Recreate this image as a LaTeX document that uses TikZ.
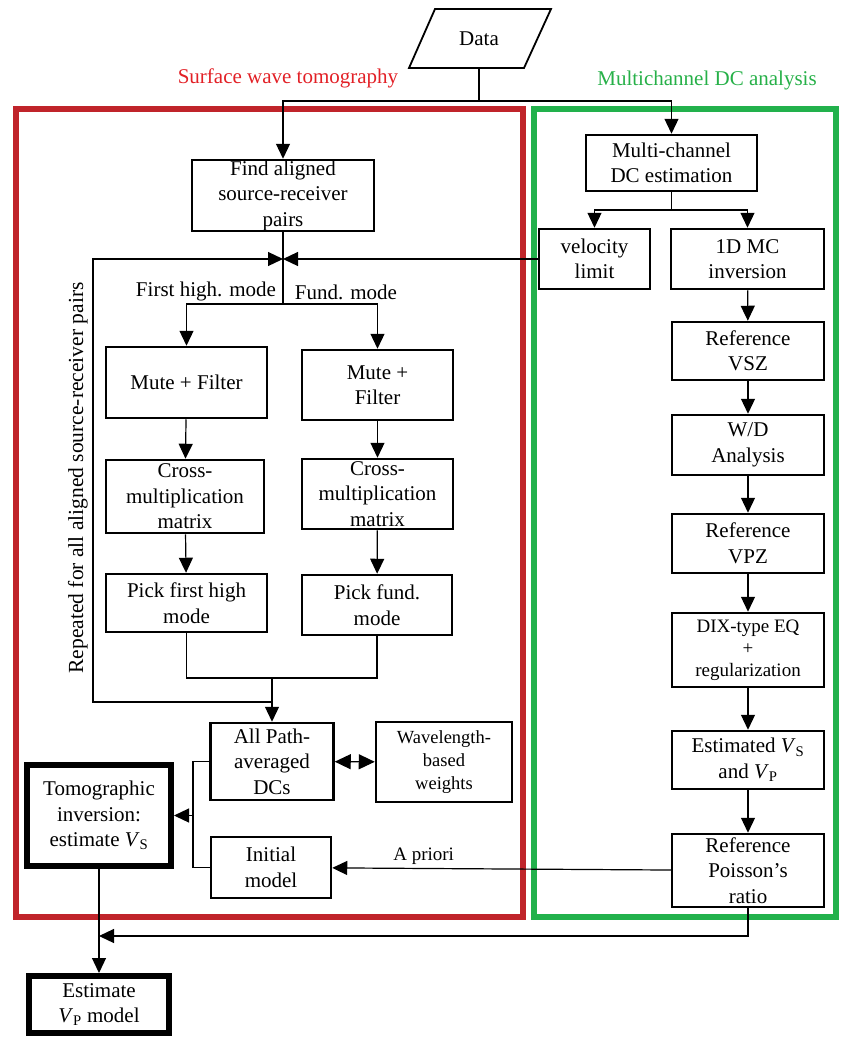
\documentclass[tikz,border=0pt]{standalone}
\usepackage{fontspec}
\setmainfont{Liberation Serif}
\usepackage{tikz}
\usetikzlibrary{arrows.meta}
\definecolor{swtred}{RGB}{226,32,38}
\definecolor{framered}{RGB}{192,36,42}
\definecolor{mcagreen}{RGB}{38,176,72}
\definecolor{framegreen}{RGB}{34,177,76}

\begin{document}
\begin{tikzpicture}[x=1pt, y=-1pt, font=\fontsize{21}{25.5}\selectfont,
    box/.style={draw, line width=2.5pt, align=center, inner sep=0pt},
    boldbox/.style={draw, line width=6pt, align=center, inner sep=0pt},
    conn/.style={line width=1.2pt},
    arr/.style={conn, -{Triangle[length=15pt, width=14pt]}},
    dblarr/.style={conn, {Triangle[length=16pt, width=15pt]}-{Triangle[length=16pt, width=15pt]}}]
    \useasboundingbox (0,0) rectangle (842,1037);

    % frames
    \draw[line width=6pt, framered] (16,109) rectangle (523,917);
    \draw[line width=6pt, framegreen] (534,109) rectangle (836,917);
    \node[text=swtred] at (288,78) (swt) {Surface wave tomography};
    \node[text=mcagreen] at (707,80) (mca) {Multichannel DC analysis};

    % input
    \node[minimum width=80pt, minimum height=59pt] at (479,38.5) (data) {Data};
    \draw[line width=1.8pt] (409,68) -- (435,9) -- (551,9) -- (524,68) -- cycle;

    % surface wave tomography
    \node[box, minimum width=182pt, minimum height=71pt] at (283,195.5) (find) {Find aligned\\source-receiver\\pairs};
    \node at (206,291) (fhm) {First high. mode};
    \node at (346,292) (fm) {Fund. mode};
    \node[box, minimum width=161pt, minimum height=71pt] at (186.5,382.5) (mfl) {Mute + Filter};
    \node[box, minimum width=151pt, minimum height=70pt] at (377.5,385) (mfr) {Mute +\\Filter};
    \node[box, minimum width=158pt, minimum height=73pt] at (185,496.5) (cml) {Cross-\\multiplication\\matrix};
    \node[box, minimum width=151pt, minimum height=70pt] at (377.5,494) (cmr) {Cross-\\multiplication\\matrix};
    \node[box, minimum width=161pt, minimum height=58pt] at (186.5,603) (pkl) {Pick first high\\mode};
    \node[box, minimum width=150pt, minimum height=60pt] at (377,605) (pkr) {Pick fund.\\mode};
    \node[rotate=90, font=\fontsize{21.5}{25}\selectfont] at (78,478) (rep) {Repeated for all aligned source-receiver pairs};
    \node[box, minimum width=123pt, minimum height=77pt] at (272,761.5) (allp) {All Path-\\averaged\\DCs};
    \node[box, minimum width=136pt, minimum height=80pt, font=\fontsize{18.5}{23}\selectfont] at (444,762) (wave) {Wavelength-\\based\\weights};
    \node[box, minimum width=120pt, minimum height=61pt] at (271,867.5) (init) {Initial\\model};
    \node[boldbox, minimum width=144pt, minimum height=101pt] at (99,815.5) (tomo) {Tomographic\\inversion:\\estimate \textit{V}\textsubscript{S}};
    \node[boldbox, minimum width=140pt, minimum height=57pt] at (99,1004.5) (estvp) {Estimate\\\textit{V}\textsubscript{P} model};

    % multichannel DC analysis
    \node[box, minimum width=171pt, minimum height=56pt] at (671.5,163) (mcdc) {Multi-channel\\DC estimation};
    \node[box, minimum width=111pt, minimum height=60pt] at (594.5,259) (vlim) {velocity\\limit};
    \node[box, minimum width=153pt, minimum height=60pt] at (747.5,259) (mc1d) {1D MC\\inversion};
    \node[box, minimum width=152pt, minimum height=58pt] at (748,351) (vsz) {Reference\\VSZ};
    \node[box, minimum width=152pt, minimum height=60pt] at (748,445) (wd) {W/D\\Analysis};
    \node[box, minimum width=152pt, minimum height=59pt] at (748,543.5) (vpz) {Reference\\VPZ};
    \node[box, minimum width=152pt, minimum height=74pt, font=\fontsize{19}{22}\selectfont] at (748,650) (dix) {DIX-type EQ\\+\\regularization};
    \node[box, minimum width=152pt, minimum height=58pt] at (748,760) (est) {Estimated \textit{V}\textsubscript{S}\\and \textit{V}\textsubscript{P}};
    \node[box, minimum width=152pt, minimum height=73pt] at (748,870.5) (poi) {Reference\\Poisson’s\\ratio};

    % junctions
    \coordinate (dsplit) at (479,101);
    \coordinate (mcsplit) at (671.5,210);
    \coordinate (jn) at (283,259);
    \coordinate (fsplit) at (283,304);
    \coordinate (pjoin) at (272,678);
    \coordinate (lj) at (272,702);
    \coordinate (lcorner) at (93,702);
    \coordinate (brk) at (193,815.5);
    \coordinate (vpin) at (99,936);

    \draw[conn] (data) -- (dsplit);
    \draw[arr] (dsplit) -| (find);
    \draw[arr] (dsplit) -| (mcdc);
    \draw[conn] (mcdc) -- (mcsplit);
    \draw[arr] (mcsplit) -| (vlim);
    \draw[arr] (mcsplit) -| (mc1d);
    \draw[arr] (vlim) -- (jn);
    \draw[arr] (lj) -- (lcorner) |- (jn);
    \draw[conn] (find) -- (fsplit);
    \draw[arr] (fsplit) -| (mfl);
    \draw[arr] (fsplit) -| (mfr);
    \draw[arr] (mfl) -- (cml);
    \draw[arr] (cml) -- (pkl);
    \draw[arr] (mfr) -- (cmr);
    \draw[arr] (cmr) -- (pkr);
    \draw[conn] (pkl) |- (pjoin) -| (pkr);
    \draw[arr] (pjoin) -- (allp);
    \draw[dblarr] (allp) -- (wave);
    \draw[conn] (allp.west) -| (brk) |- (init.west);
    \draw[arr] (brk) -- (tomo);
    \draw[arr] (mc1d) -- (vsz);
    \draw[arr] (vsz) -- (wd);
    \draw[arr] (wd) -- (vpz);
    \draw[arr] (vpz) -- (dix);
    \draw[arr] (dix) -- (est);
    \draw[arr] (est) -- (poi);
    \draw[arr] (poi) -- node[pos=0.73, above, font=\fontsize{19}{22}\selectfont] (apr) {A priori} (init);
    \draw[arr] (poi) |- (vpin);
    \draw[arr] (tomo) -- (estvp);
\end{tikzpicture}
\end{document}
